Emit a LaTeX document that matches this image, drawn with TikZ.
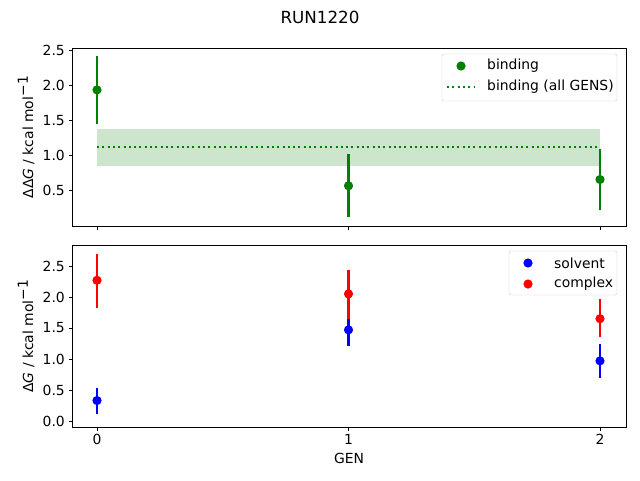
\documentclass[tikz,border=0pt]{standalone}
\usepackage{fontspec}
\setmainfont{DejaVu Sans}
\begin{document}
\begin{tikzpicture}[x=1pt,y=-1pt,
  lab/.style={font=\fontsize{13.9}{16}\selectfont,inner sep=0pt},
  eb/.style={line width=2.1pt},
  dl/.style={green!50!black,line width=2pt,dash pattern=on 2pt off 3.3pt}]
\useasboundingbox (0,0) rectangle (640,480);
\fill[white] (0,0) rectangle (640,480);
\node[font=\fontsize{16.7}{19}\selectfont] at (320,17) {RUN1220};
\fill[green!50!black,opacity=0.2] (97,{225.7-70*1.38}) rectangle (600,{225.7-70*0.86});
\draw[dl] (97,{225.7-70*1.12}) -- (600,{225.7-70*1.12});
\foreach \gx/\v/\lo/\hi in {0/1.94/1.45/2.43,1/0.57/0.12/1.03,2/0.66/0.23/1.10}{
  \draw[eb,green!50!black] ({97+251.5*\gx},{225.7-70*\lo}) -- ({97+251.5*\gx},{225.7-70*\hi});
  \fill[green!50!black] ({97+251.5*\gx},{225.7-70*\v}) circle (4.6);
}
\draw[line width=0.8pt] (72,48) rectangle (626,226);
\foreach \v in {0.5,1.0,1.5,2.0,2.5}{
  \draw[line width=0.8pt] (72,{225.7-70*\v}) -- (68.5,{225.7-70*\v});
  \node[lab,anchor=east] at (65,{225.7-70*\v}) {\v};}
\foreach \gx in {0,1,2}\draw[line width=0.8pt] ({97+251.5*\gx},226) -- ({97+251.5*\gx},229.5);
\node[lab,rotate=90] at (26,137) {ΔΔ\textit{G} / kcal mol$^{\textrm{−1}}$};
\draw[black!20,fill=white,rounded corners=2pt] (442,54) rectangle (617,101);
\fill[green!50!black] (461,66) circle (4.6);
\node[lab,anchor=west] at (487,66) {binding};
\draw[dl] (447,87) -- (475,87);
\node[lab,anchor=west] at (487,87) {binding (all GENS)};
\foreach \gx/\v/\lo/\hi/\c in {0/0.33/0.12/0.54/blue,1/1.47/1.21/1.70/blue,2/0.97/0.70/1.25/blue,0/2.27/1.83/2.70/red,1/2.05/1.65/2.43/red,2/1.65/1.35/1.97/red}{
  \draw[eb,\c] ({97+251.5*\gx},{421-62*\lo}) -- ({97+251.5*\gx},{421-62*\hi});
  \fill[\c] ({97+251.5*\gx},{421-62*\v}) circle (4.6);
}
\draw[line width=0.8pt] (72,245) rectangle (626,427);
\foreach \v in {0.0,0.5,1.0,1.5,2.0,2.5}{
  \draw[line width=0.8pt] (72,{421-62*\v}) -- (68.5,{421-62*\v});
  \node[lab,anchor=east] at (65,{421-62*\v}) {\v};}
\foreach \gx in {0,1,2}{\draw[line width=0.8pt] ({97+251.5*\gx},427) -- ({97+251.5*\gx},430.5);
  \node[lab,anchor=north] at ({97+251.5*\gx},434) {\gx};}
\node[lab] at (349,458) {GEN};
\node[lab,rotate=90] at (26,336) {Δ\textit{G} / kcal mol$^{\textrm{−1}}$};
\draw[black!20,fill=white,rounded corners=2pt] (509,251) rectangle (617,295);
\fill[blue] (528,263) circle (4.6);
\node[lab,anchor=west] at (554,263) {solvent};
\fill[red] (528,284) circle (4.6);
\node[lab,anchor=west] at (554,284) {complex};
\end{tikzpicture}
\end{document}
